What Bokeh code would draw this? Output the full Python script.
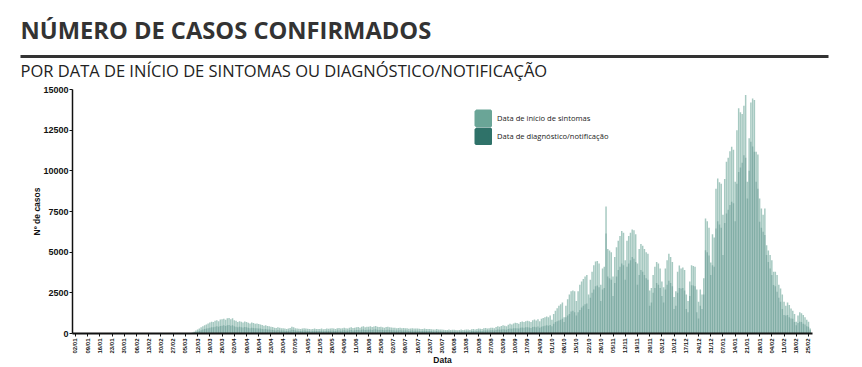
import math
import pandas as pd
from bokeh.plotting import figure
from bokeh.models import (Range1d, FixedTicker, Label, BoxAnnotation, Legend,
                          LegendItem, ColumnDataSource)
from bokeh.layouts import column
from bokeh.embed import file_html
from bokeh.resources import INLINE

# ---------------- data ----------------
start_date = "2020-01-02"

# daily cases, one row per week (weeks start on Thursday, as the x ticks)
inicio_sintomas = [
    0, 0, 0, 0, 0, 0, 0,
    0, 0, 0, 0, 0, 0, 0,
    0, 0, 0, 0, 0, 0, 0,
    0, 0, 0, 0, 0, 0, 0,
    0, 0, 0, 0, 0, 0, 0,
    0, 0, 0, 0, 0, 0, 0,
    0, 0, 0, 0, 0, 0, 0,
    0, 0, 0, 0, 0, 0, 0,
    0, 0, 0, 1, 2, 3, 5,
    8, 12, 20, 35, 60, 110, 180,
    240, 310, 380, 440, 500, 560, 620,
    680, 720, 700, 780, 820, 760, 860,
    880, 900, 840, 930, 960, 880, 940,
    820, 780, 700, 760, 720, 680, 740,
    700, 660, 620, 680, 640, 600, 620,
    580, 560, 520, 480, 500, 460, 440,
    420, 400, 360, 340, 380, 350, 330,
    320, 300, 280, 300, 340, 420, 380,
    320, 300, 290, 280, 310, 330, 300,
    290, 280, 260, 270, 300, 280, 270,
    280, 300, 260, 270, 310, 290, 300,
    320, 300, 280, 330, 340, 310, 320,
    350, 330, 300, 360, 380, 340, 350,
    380, 400, 360, 420, 440, 390, 410,
    420, 450, 400, 430, 460, 420, 400,
    410, 390, 360, 400, 420, 380, 370,
    360, 350, 320, 340, 360, 330, 340,
    330, 320, 290, 310, 330, 300, 310,
    300, 290, 270, 280, 300, 270, 280,
    270, 260, 240, 250, 270, 240, 250,
    240, 230, 210, 220, 240, 220, 230,
    230, 220, 200, 220, 240, 210, 230,
    250, 240, 220, 260, 280, 250, 270,
    300, 290, 270, 320, 340, 310, 330,
    360, 350, 320, 400, 440, 420, 460,
    500, 480, 450, 540, 600, 560, 620,
    660, 640, 600, 700, 740, 700, 760,
    780, 760, 700, 820, 860, 800, 880,
    750, 900, 950, 1000, 1050, 1000, 1100,
    850, 1200, 1400, 1550, 1700, 1800, 1900,
    1000, 1700, 2100, 2400, 2600, 2650, 2600,
    2000, 2600, 3000, 3200, 3350, 3500, 3600,
    2400, 3300, 3800, 4200, 4430, 4450, 4300,
    3000, 4000, 4100, 7800, 5200, 5100, 5000,
    3500, 4700, 5300, 5700, 6000, 6300, 6200,
    4500, 5700, 6000, 6200, 6400, 6350, 6100,
    4300, 5200, 5500, 5400, 5200, 5000, 4900,
    2650, 2800, 3600, 4100, 4400, 4300, 4000,
    3200, 2850, 4000, 4500, 4900, 4700, 4400,
    2250, 2600, 3800, 4180, 4000, 4050, 3900,
    2400, 2000, 3200, 4200, 4150, 4100, 2700,
    1950, 2700, 2400, 3400, 7070, 6900, 6500,
    4370, 6100, 5900, 8900, 9530, 9300, 9200,
    7300, 9500, 10560, 10800, 11200, 11480, 11300,
    9330, 12500, 13840, 13600, 13500, 14000, 14660,
    9330, 12000, 14200, 14450, 14350, 11170, 11000,
    8300, 7690, 7300, 7690, 5430, 5100, 4820,
    4500, 3790, 3790, 3600, 3000, 2770, 2400,
    1950, 1700, 1900, 1750, 1540, 1400, 1200,
    720, 1100, 1300, 1250, 1130, 1000, 850,
    720, 310,
]

diagnostico_notificacao = [
    0, 0, 0, 0, 0, 0, 0,
    0, 0, 0, 0, 0, 0, 0,
    0, 0, 0, 0, 0, 0, 0,
    0, 0, 0, 0, 0, 0, 0,
    0, 0, 0, 0, 0, 0, 0,
    0, 0, 0, 0, 0, 0, 0,
    0, 0, 0, 0, 0, 0, 0,
    0, 0, 0, 0, 0, 0, 0,
    0, 0, 0, 0, 1, 2, 3,
    4, 6, 10, 18, 30, 55, 90,
    120, 160, 200, 240, 270, 300, 330,
    360, 390, 380, 420, 440, 410, 460,
    480, 500, 460, 510, 530, 480, 510,
    450, 420, 380, 410, 390, 370, 400,
    380, 360, 330, 360, 340, 320, 330,
    310, 300, 280, 260, 270, 250, 240,
    230, 220, 200, 190, 210, 190, 180,
    180, 170, 160, 170, 190, 230, 210,
    180, 170, 160, 150, 170, 180, 170,
    160, 150, 140, 150, 170, 150, 150,
    150, 170, 140, 150, 170, 160, 170,
    180, 170, 150, 180, 190, 170, 180,
    200, 190, 170, 200, 210, 190, 200,
    210, 220, 200, 230, 240, 220, 230,
    230, 250, 220, 240, 260, 230, 220,
    230, 220, 200, 220, 230, 210, 200,
    200, 190, 180, 190, 200, 180, 190,
    180, 180, 160, 170, 180, 170, 170,
    170, 160, 150, 160, 170, 150, 160,
    150, 150, 130, 140, 150, 130, 140,
    140, 130, 120, 130, 140, 120, 130,
    130, 130, 110, 130, 140, 120, 130,
    140, 140, 130, 150, 160, 140, 160,
    170, 170, 150, 180, 190, 180, 190,
    200, 200, 180, 220, 240, 230, 250,
    260, 250, 230, 280, 310, 290, 320,
    330, 320, 300, 350, 370, 350, 380,
    380, 370, 340, 400, 420, 390, 430,
    350, 420, 450, 480, 500, 480, 520,
    450, 600, 700, 750, 800, 850, 900,
    700, 1000, 1100, 1200, 1350, 1400, 1300,
    1100, 1300, 1450, 1600, 1700, 1800, 1850,
    1500, 2200, 2500, 2700, 2900, 2950, 2850,
    2000, 2700, 2800, 6150, 3500, 3400, 3300,
    2300, 3100, 3500, 3900, 4100, 4300, 4200,
    3300, 4100, 4300, 4500, 4700, 4600, 4400,
    3000, 3600, 3900, 3800, 3600, 3400, 3300,
    1700, 1900, 2500, 2800, 3100, 3000, 2800,
    2300, 1900, 2700, 3000, 3250, 3100, 2900,
    1500, 1700, 2500, 2800, 2770, 2800, 2650,
    1500, 1300, 2300, 2970, 2950, 2900, 1300,
    920, 1700, 1500, 2400, 5120, 5000, 4800,
    3600, 4200, 4100, 6450, 6900, 6700, 6500,
    4820, 6800, 7380, 7600, 7900, 8100, 8000,
    6900, 9200, 9930, 10200, 10500, 10960, 10800,
    8300, 10000, 11790, 11500, 11170, 9330, 8900,
    6870, 6500, 6250, 6050, 4820, 4400, 4000,
    3600, 2980, 2900, 2560, 2200, 1950, 1500,
    1130, 1100, 1130, 1000, 920, 900, 700,
    510, 650, 720, 700, 600, 550, 450,
    410, 200,
]

y_ticks = [0, 2500, 5000, 7500, 10000, 12500, 15000]

dates = pd.date_range(start_date, periods=len(inicio_sintomas), freq="D")
day_index = list(range(len(dates)))
tick_positions = list(range(0, len(dates), 7))
tick_labels = [dates[i].strftime("%d/%m") for i in tick_positions]

title_text = "NÚMERO DE CASOS CONFIRMADOS"
subtitle_text = "POR DATA DE INÍCIO DE SINTOMAS OU DIAGNÓSTICO/NOTIFICAÇÃO"
legend_labels = ["Data de início de sintomas", "Data de diagnóstico/notificação"]

COL_INICIO = "#6aa597"
COL_DIAG = "#2f7269"
AXIS_FONT = "Liberation Sans"

LEFT, RIGHT = 72, 50
W, HEAD_H, CHART_H = 862, 83, 284


def no_frame_align(fig):
    if "frame_align" in fig.properties():
        fig.frame_align = False
        return True
    return False


# ---------------- header (data units == page pixels) ----------------
head = figure(width=W, height=HEAD_H, x_range=Range1d(0, W),
              y_range=Range1d(HEAD_H, 0), output_backend="svg", toolbar_location=None,
              min_border=0, min_border_left=0, min_border_right=0, min_border_top=0,
              min_border_bottom=0, x_axis_location=None, y_axis_location=None)
head.outline_line_color = None
head.grid.visible = False
head.add_layout(Label(x=20, y=29, text=title_text, text_font="Open Sans",
                      text_font_size="23.7px", text_font_style="bold",
                      text_color="#333333", text_baseline="alphabetic"))
head.add_layout(BoxAnnotation(left=20, right=828, top=54.5, bottom=57.5,
                              fill_color="#333333", fill_alpha=1.0, line_color=None))
head.add_layout(Label(x=20, y=70, text=subtitle_text, text_font="Open Sans",
                      text_font_size="16.5px", text_font_style="normal",
                      text_color="#222222", text_baseline="alphabetic"))

# ---------------- chart ----------------
p = figure(width=W, height=CHART_H, x_range=Range1d(-1.7, 422.3), y_range=Range1d(0, 15000),
           output_backend="svg", toolbar_location=None,
           min_border_left=LEFT, min_border_right=RIGHT, min_border_top=6, min_border_bottom=34)
p.outline_line_color = None
p.grid.visible = False

no_frame_align(head)
no_frame_align(p)

src = ColumnDataSource(dict(day=day_index, inicio=inicio_sintomas, diag=diagnostico_notificacao))
p.vbar(x="day", top="inicio", width=0.85, source=src,
       fill_color=COL_INICIO, fill_alpha=0.6, line_color=None)
p.vbar(x="day", top="diag", width=0.85, source=src,
       fill_color=COL_DIAG, fill_alpha=0.3, line_color=None)

# legend swatches in full colour (hidden renderers, shown only in the legend)
sw1 = p.vbar(x="day", top="inicio", width=0.85, source=src, fill_color=COL_INICIO,
             line_color=COL_INICIO, line_width=3.6, visible=False)
sw2 = p.vbar(x="day", top="diag", width=0.85, source=src, fill_color=COL_DIAG,
             line_color=COL_DIAG, line_width=3.6, visible=False)
legend = Legend(items=[LegendItem(label=legend_labels[0], renderers=[sw1]),
                       LegendItem(label=legend_labels[1], renderers=[sw2])],
                location=(402, 188), orientation="vertical",
                glyph_width=18, glyph_height=18, spacing=0, padding=0, margin=0,
                label_standoff=5, border_line_color=None, background_fill_alpha=0,
                inactive_fill_alpha=0, click_policy="none",
                label_text_font="Open Sans", label_text_font_size="7.6px",
                label_text_color="#222222", label_height=18)
p.add_layout(legend)

xa = p.xaxis[0]
xa.ticker = FixedTicker(ticks=tick_positions, minor_ticks=[])
xa.major_label_overrides = {t: l for t, l in zip(tick_positions, tick_labels)}
xa.major_label_orientation = math.pi / 2
xa.major_label_text_font = AXIS_FONT
xa.major_label_text_font_size = "6px"
xa.major_label_text_font_style = "bold"
xa.major_label_text_color = "#111111"
xa.major_label_standoff = 2
xa.major_tick_out = 3
xa.major_tick_in = 0
xa.major_tick_line_color = "#111111"
xa.axis_line_width = 2
xa.axis_line_color = "#111111"
xa.axis_label = "Data"
xa.axis_label_text_font = AXIS_FONT
xa.axis_label_text_font_size = "8.5px"
xa.axis_label_text_font_style = "bold"
xa.axis_label_text_color = "#111111"
xa.axis_label_standoff = -2

ya = p.yaxis[0]
ya.ticker = FixedTicker(ticks=y_ticks, minor_ticks=[])
ya.major_label_text_font = AXIS_FONT
ya.major_label_text_font_size = "9px"
ya.major_label_text_font_style = "bold"
ya.major_label_text_color = "#111111"
ya.major_label_standoff = 1
ya.major_tick_out = 3
ya.major_tick_in = 0
ya.major_tick_line_color = "#111111"
ya.axis_line_width = 1.5
ya.axis_line_color = "#111111"
ya.axis_label = "Nº de casos"
ya.axis_label_text_font = AXIS_FONT
ya.axis_label_text_font_size = "8.5px"
ya.axis_label_text_font_style = "bold"
ya.axis_label_text_color = "#111111"
ya.axis_label_standoff = -2

layout = column(head, p, spacing=0)
open("out.html", "w").write(file_html(layout, INLINE))
